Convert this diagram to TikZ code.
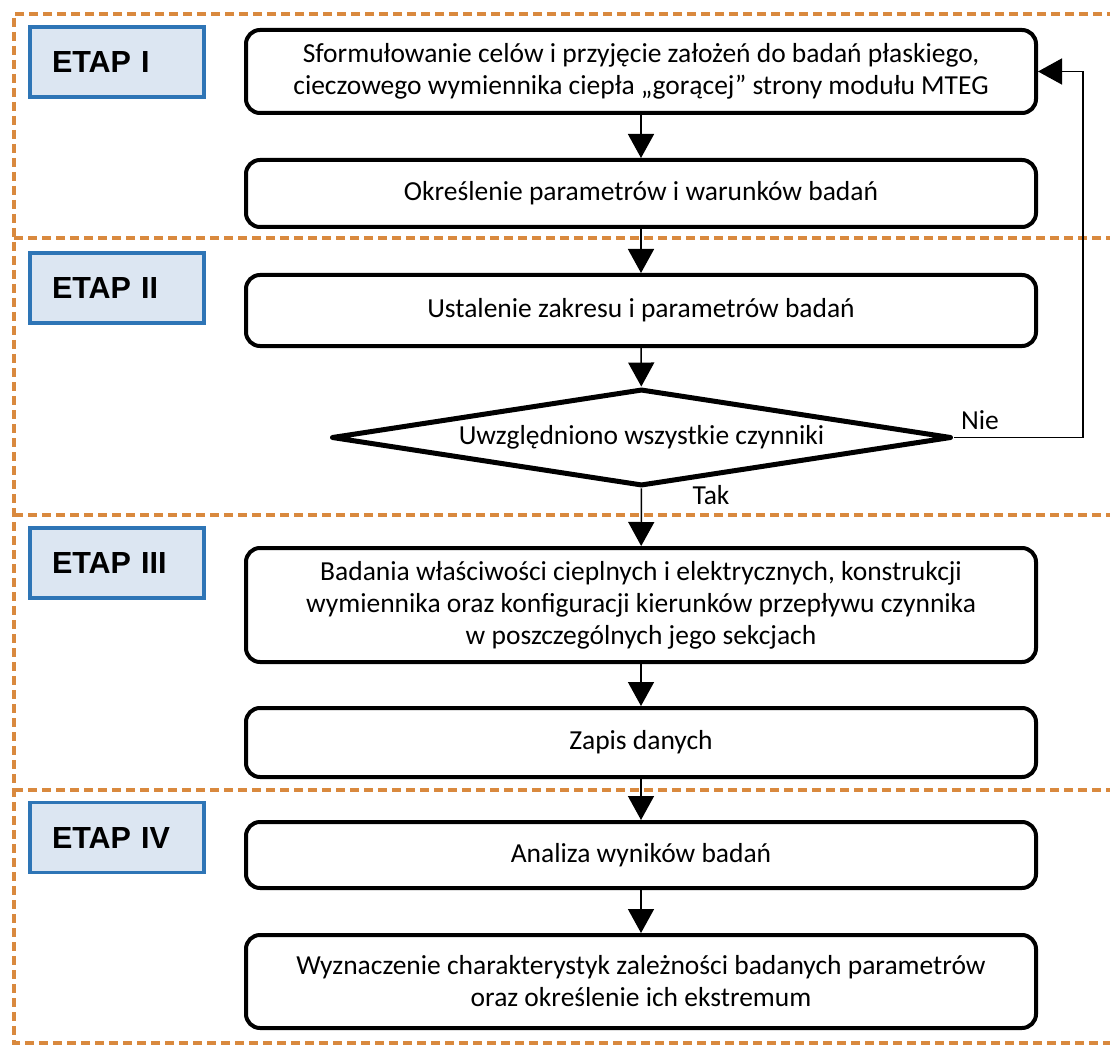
\documentclass[tikz,border=0pt]{standalone}
\usepackage{fontspec}
\setmainfont{Carlito}
\newfontfamily\etapfont{Liberation Sans}
\usetikzlibrary{arrows.meta,shapes.geometric}
\definecolor{frameorange}{RGB}{217,137,62}
\definecolor{etapfill}{RGB}{220,230,242}
\definecolor{etapedge}{RGB}{46,117,182}

\begin{document}
\begin{tikzpicture}[x=1pt,y=-1pt,
  proc/.style={draw=black, line width=4pt, rounded corners=14pt, fill=white,
    minimum width=790pt, align=center, inner sep=0pt,
    font=\fontsize{27.5}{32}\selectfont},
  decision/.style={diamond, shape aspect=6.4, draw=black, line width=5pt,
    line join=round, fill=white,
    minimum width=620pt, minimum height=97pt, inner sep=0pt,
    font=\fontsize{27.5}{32}\selectfont},
  etap/.style={draw=etapedge, fill=etapfill, line width=3.5pt,
    minimum width=174pt, minimum height=70pt, text width=130pt,
    inner xsep=0pt, align=left,
    font=\etapfont\bfseries\fontsize{30.5}{34}\selectfont},
  flow/.style={line width=1.5pt, -{Triangle[width=26pt,length=24pt]}},
  answer/.style={font=\fontsize{27.5}{32}\selectfont, inner sep=0pt},
  stagebound/.style={draw=frameorange, line width=3.5pt, dash pattern=on 9pt off 5pt}
]
\useasboundingbox (0,0) rectangle (1110,1048);
\fill[white] (0,0) rectangle (1110,1048);

% stage frame and dividers
\begin{scope}
\clip (0,0) rectangle (1110,1048);
\draw[stagebound] (1130,14) -- (14,14) -- (14,1043) -- (1130,1043);
\draw[stagebound] (14,238) -- (1130,238);
\draw[stagebound] (14,515) -- (1130,515);
\draw[stagebound] (14,790) -- (1130,790);
\end{scope}

% stage labels
\node[etap] (e1) at (117,62) {ETAP I};
\node[etap] (e2) at (117,288) {ETAP II};
\node[etap] (e3) at (117,563) {ETAP III};
\node[etap] (e4) at (117,837.5) {ETAP IV};

% process steps
\node[proc, minimum height=83pt] (b1) at (641,71.5)
  {Sformułowanie celów i przyjęcie założeń do badań płaskiego,\\
   cieczowego wymiennika ciepła „gorącej” strony modułu MTEG};
\node[proc, minimum height=67pt] (b2) at (641,193.5)
  {Określenie parametrów i warunków badań};
\node[proc, minimum height=71pt] (b3) at (641,310.5)
  {Ustalenie zakresu i parametrów badań};
\node[decision] (d) at (641.5,437.5) {Uwzględniono wszystkie czynniki};
\node[proc, minimum height=114pt] (b5) at (641,605)
  {Badania właściwości cieplnych i elektrycznych, konstrukcji\\
   wymiennika oraz konfiguracji kierunków przepływu czynnika\\
   w poszczególnych jego sekcjach};
\node[proc, minimum height=69pt] (b6) at (641,742.5) {Zapis danych};
\node[proc, minimum height=66pt] (b7) at (641,855) {Analiza wyników badań};
\node[proc, minimum height=93pt] (b8) at (641,981.5)
  {Wyznaczenie charakterystyk zależności badanych parametrów\\
   oraz określenie ich ekstremum};

% connectors
\draw[flow] (b1) -- (b2);
\draw[flow] (b2) -- (b3);
\draw[flow] (b3) -- (d);
\draw[flow] (d) -- (b5);
\draw[flow] (b5) -- (b6);
\draw[flow] (b6) -- (b7);
\draw[flow] (b7) -- (b8);
\coordinate (loop) at (1083,437.5);
\draw[flow] (d.east) -- (loop) |- (b1.east);

\node[answer] (nie) at (980,420) {Nie};
\node[answer] (tak) at (711,495) {Tak};
\end{tikzpicture}
\end{document}
